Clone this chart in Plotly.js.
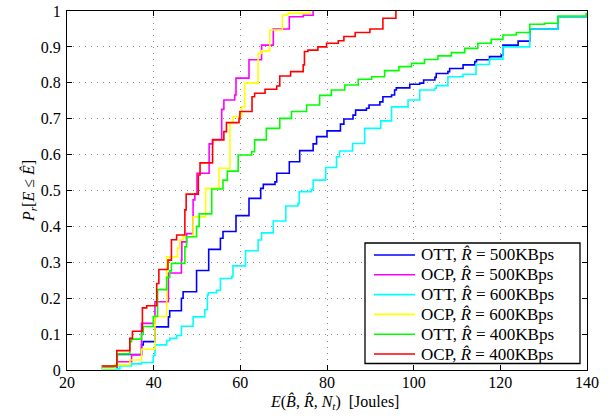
<!DOCTYPE html>
<html>
<head>
<meta charset="utf-8">
<script src="https://cdn.plot.ly/plotly-3.0.1.min.js"></script>
<style>html,body{margin:0;padding:0;background:#fff;}#chart{width:613px;height:419px;}</style>
</head>
<body>
<div id="chart"></div>
<script>
// OTT, R = 500KBps (blue)
var ott500X = [28.0, 31.6, 37.2, 37.6, 40.3, 43.4, 43.7, 46.4, 46.8, 49.9, 52.7, 55.4, 56.0, 59.0, 62.0, 64.7, 65.3, 68.0, 68.4, 71.3, 73.7, 76.8, 77.6, 80.0, 83.1, 83.9, 86.0, 86.6, 89.1, 89.7, 92.2, 92.9, 94.9, 95.6, 96.0, 99.1, 101.4, 102.3, 104.9, 105.2, 107.9, 108.3, 111.4, 114.1, 114.5, 117.5, 120.2, 120.6, 124.1, 126.8, 133.3, 140.0];
var ott500Y = [0.005, 0.043, 0.070, 0.079, 0.120, 0.148, 0.165, 0.200, 0.218, 0.277, 0.336, 0.367, 0.386, 0.430, 0.478, 0.506, 0.517, 0.524, 0.548, 0.580, 0.611, 0.630, 0.650, 0.666, 0.685, 0.699, 0.710, 0.724, 0.729, 0.738, 0.747, 0.761, 0.766, 0.780, 0.786, 0.796, 0.799, 0.808, 0.815, 0.826, 0.831, 0.840, 0.850, 0.859, 0.864, 0.873, 0.877, 0.905, 0.916, 0.950, 0.984, 0.990];

// OCP, R = 500KBps (magenta)
var ocp500X = [28.0, 31.5, 34.9, 37.2, 40.3, 43.4, 46.4, 46.5, 47.6, 49.1, 49.5, 50.0, 52.8, 53.6, 55.7, 56.2, 58.7, 59.0, 62.0, 64.9, 67.6, 71.3, 74.5, 76.8];
var ocp500Y = [0.006, 0.023, 0.042, 0.130, 0.190, 0.270, 0.306, 0.357, 0.380, 0.474, 0.490, 0.548, 0.630, 0.642, 0.726, 0.752, 0.766, 0.813, 0.864, 0.905, 0.950, 0.984, 0.988, 1.000];

// OTT, R = 600KBps (cyan)
var ott600X = [28.0, 32.2, 34.9, 37.2, 39.9, 40.3, 43.0, 43.7, 45.3, 46.4, 49.1, 51.8, 52.4, 52.6, 54.5, 55.4, 58.0, 58.3, 61.2, 64.1, 64.9, 67.6, 70.5, 73.3, 73.6, 76.4, 76.8, 79.7, 82.2, 82.9, 85.9, 88.7, 92.4, 94.9, 98.7, 101.4, 104.9, 105.2, 107.9, 111.4, 114.4, 117.5, 120.6, 126.8, 133.3, 140.0];
var ott600Y = [0.003, 0.011, 0.017, 0.021, 0.040, 0.070, 0.082, 0.088, 0.096, 0.122, 0.148, 0.168, 0.209, 0.215, 0.222, 0.255, 0.260, 0.290, 0.332, 0.362, 0.382, 0.415, 0.457, 0.464, 0.497, 0.503, 0.529, 0.564, 0.594, 0.610, 0.631, 0.673, 0.694, 0.733, 0.752, 0.780, 0.785, 0.792, 0.817, 0.824, 0.851, 0.866, 0.900, 0.950, 0.984, 0.990];

// OCP, R = 600KBps (yellow)
var ocp600X = [28.0, 31.1, 34.5, 37.2, 40.3, 43.0, 45.5, 46.0, 46.8, 49.1, 52.0, 55.1, 57.6, 58.3, 60.3, 61.0, 64.1, 64.9, 66.8, 69.7, 71.0, 76.0];
var ocp600Y = [0.005, 0.015, 0.028, 0.058, 0.149, 0.315, 0.339, 0.362, 0.371, 0.427, 0.506, 0.562, 0.687, 0.706, 0.733, 0.799, 0.882, 0.889, 0.947, 0.989, 0.994, 1.000];

// OTT, R = 400KBps (green)
var ott400X = [28.0, 31.6, 34.5, 34.9, 37.2, 37.6, 39.9, 40.9, 43.0, 43.7, 44.1, 47.2, 47.6, 49.9, 50.5, 53.4, 56.0, 57.0, 59.5, 62.6, 63.3, 66.0, 69.1, 71.8, 75.3, 78.3, 81.0, 84.1, 87.2, 90.3, 93.3, 96.6, 99.5, 102.5, 105.6, 108.7, 111.8, 114.8, 117.9, 120.6, 123.7, 126.8, 130.2, 133.3, 139.8];
var ott400Y = [0.010, 0.045, 0.079, 0.086, 0.100, 0.121, 0.149, 0.224, 0.258, 0.276, 0.297, 0.343, 0.371, 0.400, 0.435, 0.504, 0.529, 0.554, 0.599, 0.608, 0.641, 0.673, 0.701, 0.720, 0.738, 0.765, 0.780, 0.794, 0.810, 0.817, 0.834, 0.845, 0.854, 0.865, 0.875, 0.884, 0.896, 0.910, 0.921, 0.933, 0.940, 0.963, 0.966, 0.986, 0.995];

// OCP, R = 400KBps (red)
var ocp400X = [28.0, 31.5, 34.5, 35.1, 37.4, 38.4, 40.7, 41.2, 43.3, 44.1, 45.3, 47.2, 47.5, 50.3, 50.7, 53.6, 56.2, 56.8, 59.7, 59.9, 62.7, 63.3, 65.7, 68.4, 69.1, 71.6, 74.5, 74.8, 75.6, 77.9, 79.9, 82.6, 83.9, 86.5, 89.9, 92.9, 95.9];
var ocp400Y = [0.011, 0.054, 0.088, 0.108, 0.173, 0.179, 0.241, 0.280, 0.306, 0.363, 0.376, 0.446, 0.490, 0.543, 0.577, 0.641, 0.664, 0.689, 0.701, 0.720, 0.761, 0.771, 0.782, 0.791, 0.819, 0.831, 0.850, 0.887, 0.891, 0.900, 0.910, 0.917, 0.929, 0.940, 0.950, 0.980, 1.000];

var seriesNames = [
  'OTT, <i>R\u0302</i> = 500KBps',
  'OCP, <i>R\u0302</i> = 500KBps',
  'OTT, <i>R\u0302</i> = 600KBps',
  'OCP, <i>R\u0302</i> = 600KBps',
  'OTT, <i>R\u0302</i> = 400KBps',
  'OCP, <i>R\u0302</i> = 400KBps'
];
var seriesColors = ['#0000ff', '#ff00ff', '#00ffff', '#ffff00', '#00ff00', '#ff0000'];
var xs = [ott500X, ocp500X, ott600X, ocp600X, ott400X, ocp400X];
var ys = [ott500Y, ocp500Y, ott600Y, ocp600Y, ott400Y, ocp400Y];

var xTicks = [20, 40, 60, 80, 100, 120, 140];
var yTicks = [0, 0.1, 0.2, 0.3, 0.4, 0.5, 0.6, 0.7, 0.8, 0.9, 1];
var yTickText = ['0', '0.1', '0.2', '0.3', '0.4', '0.5', '0.6', '0.7', '0.8', '0.9', '1'];
var xTitle = '<i>E</i>(<i>B\u0302</i>, <i>R\u0302</i>, <i>N</i><sub><i>t</i></sub>)  [Joules]';
var yTitle = '<i>P</i><sub><i>r</i></sub>[<i>E</i> \u2264 <i>E\u0302</i>]';

var traces = xs.map(function (x, i) {
  return {
    x: x, y: ys[i], type: 'scatter', mode: 'lines',
    line: {shape: 'hv', color: seriesColors[i], width: 1.6},
    name: seriesNames[i], showlegend: false
  };
});

var serif = 'Liberation Serif, DejaVu Serif, serif';
var axisCommon = {
  showline: true, linecolor: '#000', linewidth: 1, mirror: 'ticks',
  ticks: 'inside', ticklen: 5, tickcolor: '#000', tickwidth: 1,
  showgrid: true, gridcolor: '#888', gridwidth: 1, griddash: '1px,5px',
  zeroline: false, tickfont: {family: serif, size: 16, color: '#000'}
};

// Legend box built from layout shapes and annotations (paper coordinates)
var plotL = 67, plotW = 520, plotT = 11, plotH = 359;
function px2x(px) { return (px - plotL) / plotW; }
function py2y(py) { return (plotT + plotH - py) / plotH; }
var legShapes = [{
  type: 'rect', xref: 'paper', yref: 'paper',
  x0: px2x(365), x1: px2x(580), y0: py2y(363.5), y1: py2y(243),
  line: {color: '#000', width: 1.3}, fillcolor: '#fff', layer: 'above'
}];
var legAnn = [];
seriesNames.forEach(function (n, i) {
  var rowY = py2y(255 + i * 19.8);
  legShapes.push({
    type: 'line', xref: 'paper', yref: 'paper',
    x0: px2x(374), x1: px2x(415), y0: rowY, y1: rowY,
    line: {color: seriesColors[i], width: 1.6}, layer: 'above'
  });
  legAnn.push({
    xref: 'paper', yref: 'paper', x: px2x(419), y: rowY,
    xanchor: 'left', yanchor: 'middle', showarrow: false, text: n,
    font: {family: serif, size: 17, color: '#000'}
  });
});
// x-axis title placed as a paper annotation
legAnn.push({
  xref: 'paper', yref: 'paper', x: px2x(334), y: py2y(402),
  xanchor: 'center', yanchor: 'middle', showarrow: false, text: xTitle,
  font: {family: serif, size: 16, color: '#000'}
});

var layout = {
  width: 613, height: 419,
  margin: {l: plotL, r: 613 - plotL - plotW, t: plotT, b: 419 - plotT - plotH},
  paper_bgcolor: '#fff', plot_bgcolor: '#fff',
  showlegend: false,
  xaxis: Object.assign({}, axisCommon, {
    range: [20, 140], tickvals: xTicks, ticktext: xTicks.map(String),
    ticklabelstandoff: -2
  }),
  yaxis: Object.assign({}, axisCommon, {
    range: [0, 1], tickvals: yTicks, ticktext: yTickText,
    ticklabelstandoff: 2,
    title: {text: yTitle, font: {family: serif, size: 16, color: '#000'}, standoff: 2}
  }),
  shapes: legShapes,
  annotations: legAnn
};

Plotly.newPlot('chart', traces, layout, {staticPlot: true, displayModeBar: false});
</script>
</body>
</html>
